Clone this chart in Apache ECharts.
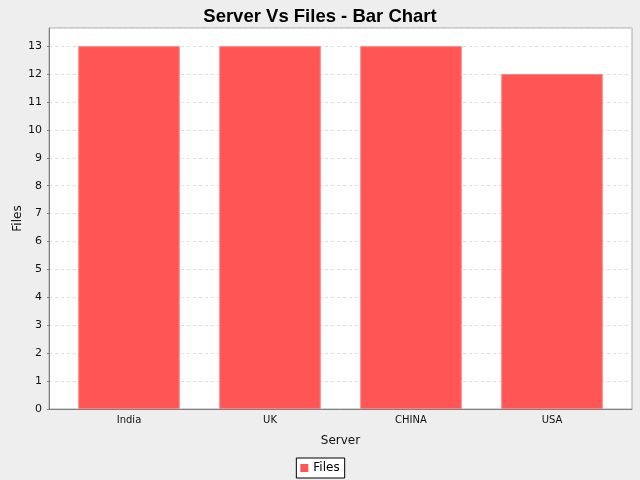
<!DOCTYPE html>
<html>
<head>
<meta charset="utf-8">
<script src="https://cdn.jsdelivr.net/npm/echarts@6/dist/echarts.min.js"></script>
<style>
  html, body { margin: 0; padding: 0; background: #eeeeee; }
  #chart { width: 640px; height: 480px; }
</style>
</head>
<body>
<div id="chart"></div>
<script>
// data
const servers = ['India', 'UK', 'CHINA', 'USA'];
const files = [13, 13, 13, 12];
const yMax = 13.65;

let myChart = echarts.init(document.getElementById('chart'));

let option = {
  backgroundColor: '#eeeeee',
  animation: false,
  title: {
    text: 'Server Vs Files - Bar Chart',
    left: 'center',
    top: 2,
    textStyle: {
      fontFamily: 'Liberation Sans',
      fontWeight: 'bold',
      fontSize: 18.5,
      color: '#000'
    }
  },
  legend: {
    data: ['Files'],
    bottom: 2,
    left: 'center',
    icon: 'rect',
    itemWidth: 8,
    itemHeight: 8,
    itemGap: 4,
    itemStyle: { borderWidth: 0 },
    padding: [4, 5, 4, 4],
    backgroundColor: '#ffffff',
    borderColor: '#000',
    borderWidth: 1,
    textStyle: { fontFamily: 'DejaVu Sans', fontSize: 12, color: '#000' }
  },
  grid: [
    // plot frame with the value axis
    { left: 49, right: 8, top: 28, bottom: 71, show: true, backgroundColor: '#ffffff', borderColor: '#aaaaaa', borderWidth: 1 },
    // bars, with the category margins
    { left: 58.5, right: 17.5, top: 28, bottom: 71 }
  ],
  xAxis: [
    {
      gridIndex: 0,
      type: 'value',
      min: 0,
      max: 1,
      name: 'Server',
      nameLocation: 'middle',
      nameGap: 26,
      nameTextStyle: { fontFamily: 'DejaVu Sans', fontSize: 12, color: '#111' },
      axisLine: { lineStyle: { color: '#808080' } },
      axisTick: { show: false },
      axisLabel: { show: false },
      splitLine: { show: false }
    },
    {
      gridIndex: 1,
      type: 'category',
      data: servers,
      axisLine: { show: false },
      axisTick: { show: false },
      axisLabel: { margin: 6, fontFamily: 'DejaVu Sans', fontSize: 10, color: '#111' }
    }
  ],
  yAxis: [
    {
      gridIndex: 0,
      type: 'value',
      min: 0,
      max: yMax,
      interval: 1,
      name: 'Files',
      nameLocation: 'middle',
      nameGap: 25,
      nameMoveOverlap: false,
      nameTextStyle: { fontFamily: 'DejaVu Sans', fontSize: 12, color: '#111' },
      axisLine: { show: true, lineStyle: { color: '#808080' } },
      axisTick: { show: true, length: 2, lineStyle: { color: '#808080' } },
      axisLabel: { margin: 7, showMaxLabel: false, fontFamily: 'DejaVu Sans', fontSize: 11, color: '#111' },
      splitLine: { show: true, lineStyle: { color: '#dddddd', type: [3, 3] } }
    },
    {
      gridIndex: 1,
      type: 'value',
      min: 0,
      max: yMax,
      show: false
    }
  ],
  series: [
    {
      name: 'Files',
      type: 'bar',
      xAxisIndex: 1,
      yAxisIndex: 1,
      barCategoryGap: '28%',
      itemStyle: { color: '#ff5555', borderColor: '#ff8080', borderWidth: 1 },
      data: files
    }
  ]
};
myChart.setOption(option);
</script>
</body>
</html>
